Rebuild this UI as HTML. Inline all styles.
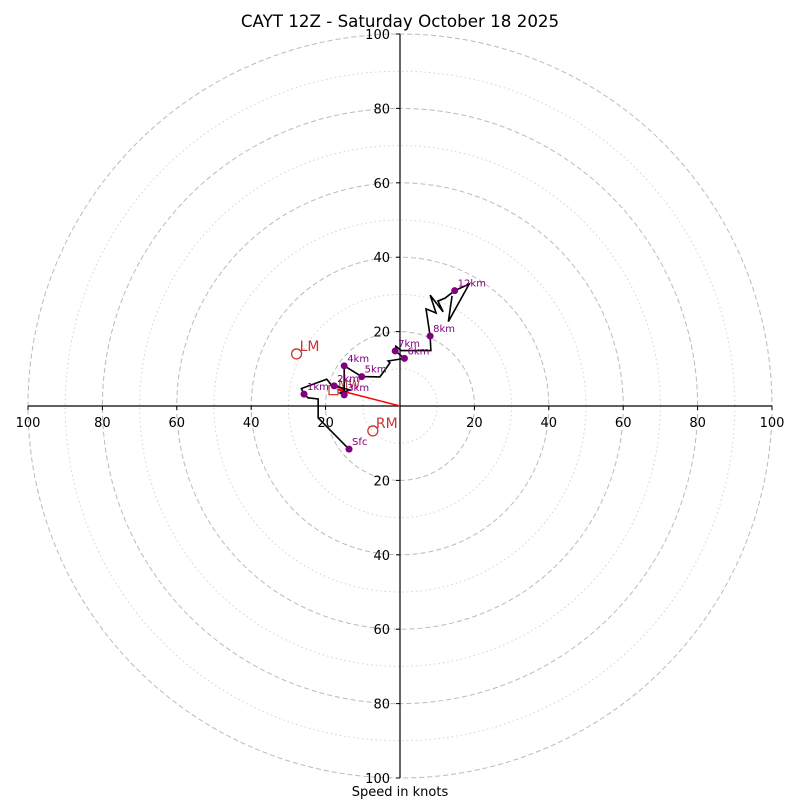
<!DOCTYPE html>
<html><head><meta charset="utf-8"><style>
body{margin:0;background:#fff}
svg{display:block;font-family:"DejaVu Sans","Liberation Sans",sans-serif}
</style></head><body>
<svg id="chart" width="800" height="800" viewBox="0 0 800 800">
<rect width="800" height="800" fill="#fff"/>
<text x="400" y="27" text-anchor="middle" font-size="16.7">CAYT 12Z - Saturday October 18 2025</text>
<text x="400" y="796" text-anchor="middle" font-size="13">Speed in knots</text>
<g id="rings"></g><g id="axes"></g><g id="series"></g>
</svg>
<script>
const ringsMajor=[20,40,60,80,100];
const ringsMinor=[10,30,50,70,90];
const tickLabels=[20,40,60,80,100];
const levelLabels=["Sfc","1km","2km","3km","4km","5km","6km","7km","8km","12km"];
const levelU=[-13.7,-25.8,-17.7,-15.0,-15.0,-10.3,1.2,-1.3,8.1,14.7];
const levelV=[-11.6,3.2,5.4,3.0,10.8,7.9,12.8,14.8,18.8,31.0];
const pathU=[-13.7,-22.0,-22.0,-22.0,-24.7,-25.8,-26.5,-19.7,-18.4,-17.7,-13.4,-16.1,-15.0,-15.0,-10.3,-5.4,-2.7,-3.2,1.2,-1.3,-1.1,0.3,8.3,8.1,7.0,9.7,8.1,11.6,10.2,12.1,14.7,18.6,13.0,14.0];
const pathV=[-11.6,-3.2,-1.6,1.9,2.2,3.2,4.7,7.2,5.6,5.4,4.3,3.5,3.0,10.8,7.9,7.8,11.6,12.1,12.8,14.8,16.1,14.9,14.9,18.8,26.1,25.0,29.8,25.3,28.2,29.0,31.0,32.8,22.7,29.6];
const stormNames=["LM","RM"];
const stormU=[-27.8,-7.3];
const stormV=[14.0,-6.7];
const meanWindU=[-17.2];
const meanWindV=[4.4];

const cx=400,cy=406,R=372,maxV=100;
const sx=u=>cx+u/maxV*R, sy=v=>cy-v/maxV*R, sr=r=>r/maxV*R;
const NS="http://www.w3.org/2000/svg";
function mk(tag,parent,attrs){const e=document.createElementNS(NS,tag);for(const k in attrs)e.setAttribute(k,attrs[k]);parent.appendChild(e);return e;}
const rings=document.getElementById('rings'),axes=document.getElementById('axes'),series=document.getElementById('series');
ringsMinor.forEach(r=>{const c=mk('circle',rings,{cx:cx,cy:cy,r:sr(r),fill:'none',stroke:'#d3d3d3','stroke-dasharray':'1.5,3','stroke-width':1});

});
ringsMajor.forEach(r=>{const c=mk('circle',rings,{cx:cx,cy:cy,r:sr(r),fill:'none',stroke:'#bbb','stroke-dasharray':'5,3','stroke-width':1});

});
const xa=mk('line',axes,{x1:sx(-100),y1:cy,x2:sx(100),y2:cy,stroke:'#000','stroke-width':1.2});


const ya=mk('line',axes,{x1:cx,y1:sy(100),x2:cx,y2:sy(-100),stroke:'#000','stroke-width':1.2});


tickLabels.forEach(t=>{[-1,1].forEach(s=>{
 const x=sx(s*t);
 mk('line',axes,{x1:x,y1:cy,x2:x,y2:cy+4,stroke:'#000'});
 const tx=mk('text',axes,{x:x,y:cy+21,'text-anchor':'middle','font-size':13});tx.textContent=t;
 
 
 const y=sy(s*t);
 mk('line',axes,{x1:cx-4,y1:y,x2:cx,y2:y,stroke:'#000'});
 const ty=mk('text',axes,{x:cx-10,y:y+5,'text-anchor':'end','font-size':13});ty.textContent=t;
 
 
});});
const ar=mk('line',series,{x1:cx,y1:cy,x2:sx(meanWindU[0])+4,y2:sy(meanWindV[0])+1,stroke:'red','stroke-width':1.5});


const ah=mk('polygon',series,{points:`${sx(meanWindU[0])},${sy(meanWindV[0])} ${sx(meanWindU[0])+8},${sy(meanWindV[0])-2} ${sx(meanWindU[0])+7},${sy(meanWindV[0])+3}`,fill:'red'});


const sq=mk('rect',series,{x:sx(meanWindU[0])-7,y:sy(meanWindV[0])-4,width:9,height:9,fill:'none',stroke:'#c33','stroke-width':1.2});


const mw=mk('text',series,{x:sx(meanWindU[0])+2,y:sy(meanWindV[0])-1,'font-size':12,fill:'#b44'});mw.textContent='MW';


const pts=pathU.map((u,i)=>sx(u)+','+sy(pathV[i])).join(' ');
const pl=mk('polyline',series,{points:pts,fill:'none',stroke:'#000','stroke-width':1.6});


levelLabels.forEach((l,i)=>{
 const c=mk('circle',series,{cx:sx(levelU[i]),cy:sy(levelV[i]),r:3.5,fill:'purple'});
 
 
 const t=mk('text',series,{x:sx(levelU[i])+3,y:sy(levelV[i])-4,'font-size':10,fill:'purple'});t.textContent=l;
 
 
});
stormNames.forEach((n,i)=>{
 const c=mk('circle',series,{cx:sx(stormU[i]),cy:sy(stormV[i]),r:5,fill:'none',stroke:'#c33','stroke-width':1.3});
 
 
 const t=mk('text',series,{x:sx(stormU[i])+3,y:sy(stormV[i])-3,'font-size':14,fill:'#c33'});t.textContent=n;
 
 
});
</script>
</body></html>
